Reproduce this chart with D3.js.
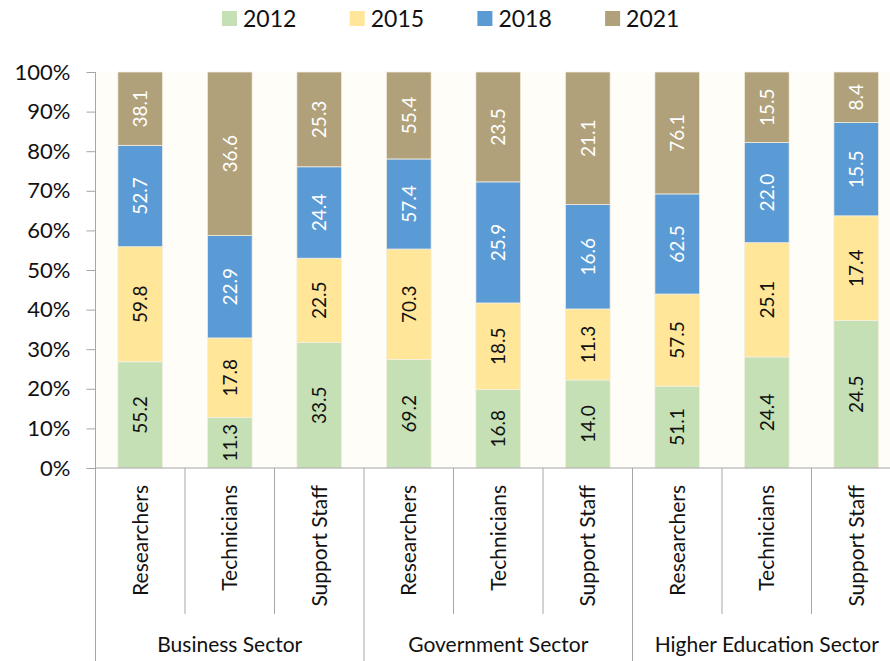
<!DOCTYPE html>
<html>
<head>
<meta charset="utf-8">
<script src="https://cdn.jsdelivr.net/npm/d3@7"></script>
<style>
  body { margin: 0; background: #ffffff; }
  svg { display: block; font-family: Lato, "Open Sans", sans-serif; }
</style>
</head>
<body>
<svg id="chart" width="890" height="661"></svg>
<script>
var sectors = ["Business Sector", "Government Sector", "Higher Education Sector"];
var roles = ["Researchers", "Technicians", "Support Staff"];
var years = ["2012", "2015", "2018", "2021"];

var v2012 = [55.2, 11.3, 33.5, 69.2, 16.8, 14.0, 51.1, 24.4, 24.5];
var v2015 = [59.8, 17.8, 22.5, 70.3, 18.5, 11.3, 57.5, 25.1, 17.4];
var v2018 = [52.7, 22.9, 24.4, 57.4, 25.9, 16.6, 62.5, 22.0, 15.5];
var v2021 = [38.1, 36.6, 25.3, 55.4, 23.5, 21.1, 76.1, 15.5, 8.4];

var yTicks = [0, 0.1, 0.2, 0.3, 0.4, 0.5, 0.6, 0.7, 0.8, 0.9, 1];

var colors = {"2012": "#c5e0b4", "2015": "#ffe699", "2018": "#5b9bd5", "2021": "#b1a17a"};
var labelColors = {"2012": "#111", "2015": "#111", "2018": "#fff", "2021": "#fff"};

// build table for the stack
var series = {"2012": v2012, "2015": v2015, "2018": v2018, "2021": v2021};
var rows = [];
sectors.forEach(function(s, si){
  roles.forEach(function(r, ri){
    var i = si * roles.length + ri;
    var row = {key: i, sector: s, role: r};
    years.forEach(function(y){ row[y] = series[y][i]; });
    rows.push(row);
  });
});

var svg = d3.select("#chart");

var plotLeft = 95.5, plotRight = 901, plotTop = 72, plotBottom = 468;

var x = d3.scaleBand()
    .domain(rows.map(function(d){ return d.key; }))
    .range([plotLeft, plotRight])
    .paddingInner(0.5)
    .paddingOuter(0.25);

var y = d3.scaleLinear()
    .domain([0, 1])
    .range([plotBottom, plotTop]);

var stacked = d3.stack()
    .keys(years)
    .offset(d3.stackOffsetExpand)(rows);

// plot area background
svg.append("rect")
    .attr("x", plotLeft)
    .attr("y", plotTop)
    .attr("width", plotRight - plotLeft)
    .attr("height", plotBottom - plotTop)
    .attr("fill", "#fffdf8");

// bars
var layers = svg.selectAll(".layer")
    .data(stacked)
    .enter()
    .append("g")
    .attr("class", "layer")
    .attr("fill", function(d){ return colors[d.key]; });

layers.selectAll("rect")
    .data(function(d){ return d; })
    .enter()
    .append("rect")
    .attr("x", function(d){ return x(d.data.key); })
    .attr("y", function(d){ return y(d[1]); })
    .attr("width", x.bandwidth())
    .attr("height", function(d){ return y(d[0]) - y(d[1]); })
    .attr("stroke", "#f4efe2")
    .attr("stroke-width", 0.75);

// value labels
layers.each(function(layer){
  var yr = layer.key;
  d3.select(this).selectAll("text")
    .data(layer)
    .enter()
    .append("text")
    .attr("transform", function(d){
      var cx = x(d.data.key) + x.bandwidth() / 2;
      var cy = y((d[0] + d[1]) / 2);
      return "translate(" + cx + "," + cy + ") rotate(-90)";
    })
    .attr("text-anchor", "middle")
    .attr("dy", "0.36em")
    .attr("fill", labelColors[yr])
    .style("font-size", "19px")
    .text(function(d){ return d.data[yr].toFixed(1); });
});

// y axis
var yAxis = d3.axisLeft(y)
    .tickValues(yTicks)
    .tickFormat(d3.format(".0%"))
    .tickSize(9)
    .tickPadding(16);

var yg = svg.append("g")
    .attr("transform", "translate(" + plotLeft + ",0)")
    .call(yAxis);
yg.select(".domain").remove();
yg.selectAll(".tick line").attr("stroke", "#a6a6a6");
yg.selectAll(".tick text")
    .attr("fill", "#111")
    .style("font-size", "22px")
    .style("font-family", "Lato, sans-serif");

svg.append("line")
    .attr("x1", plotLeft).attr("x2", plotLeft)
    .attr("y1", plotTop).attr("y2", 661)
    .attr("stroke", "#a6a6a6");

// x axis line
svg.append("line")
    .attr("x1", plotLeft).attr("x2", 890)
    .attr("y1", plotBottom).attr("y2", plotBottom)
    .attr("stroke", "#a6a6a6");

// category separators
var step = x.step();
for (var k = 1; k <= rows.length; k++) {
  var bx = plotLeft + k * step;
  svg.append("line")
      .attr("x1", bx).attr("x2", bx)
      .attr("y1", plotBottom)
      .attr("y2", k % roles.length === 0 ? 661 : 614)
      .attr("stroke", "#a6a6a6");
}

// category labels
svg.selectAll(".role")
    .data(rows)
    .enter()
    .append("text")
    .attr("class", "role")
    .attr("transform", function(d){
      return "translate(" + (x(d.key) + x.bandwidth() / 2) + "," + (plotBottom + 17) + ") rotate(-90)";
    })
    .attr("text-anchor", "end")
    .attr("dy", "0.36em")
    .attr("fill", "#111")
    .style("font-size", "21px")
    .text(function(d){ return d.role; });

// sector labels
svg.selectAll(".sector")
    .data(sectors)
    .enter()
    .append("text")
    .attr("class", "sector")
    .attr("x", function(d, i){ return plotLeft + (i * 3 + 1.5) * step; })
    .attr("y", 652)
    .attr("text-anchor", "middle")
    .attr("fill", "#111")
    .style("font-size", "21px")
    .text(function(d){ return d; });

// legend
var legend = svg.selectAll(".legend")
    .data(years)
    .enter()
    .append("g")
    .attr("class", "legend")
    .attr("transform", function(d, i){ return "translate(" + (222 + i * 127.7) + ",0)"; });

legend.append("rect")
    .attr("x", 0)
    .attr("y", 11)
    .attr("width", 15)
    .attr("height", 15)
    .attr("fill", function(d){ return colors[d]; });

legend.append("text")
    .attr("x", 21)
    .attr("y", 27)
    .attr("fill", "#111")
    .style("font-size", "23px")
    .text(function(d){ return d; });
</script>
</body>
</html>
